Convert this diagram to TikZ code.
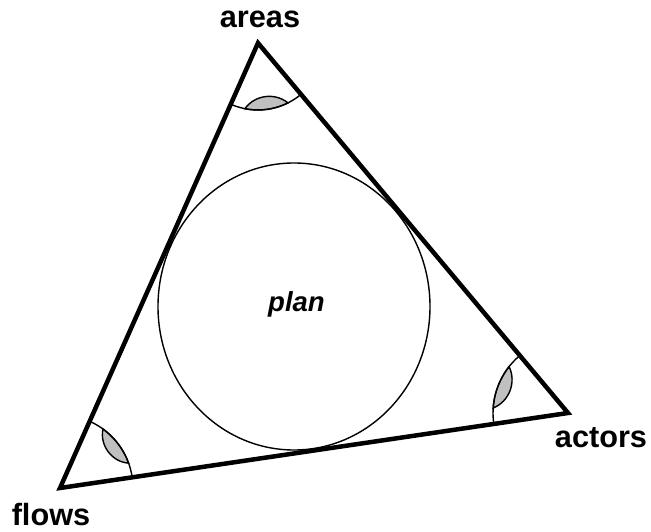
\documentclass[tikz,border=0pt]{standalone}
\usepackage{fontspec}
\setmainfont{Liberation Sans}
\usetikzlibrary{calc}
\definecolor{lensgray}{HTML}{C0C0C0}
\tikzset{
  lbl/.style={font=\fontsize{30.7}{36}\selectfont\bfseries, anchor=base, inner sep=0pt},
  side/.style={line width=4.5pt, line join=miter, line cap=round},
  thinline/.style={line width=1.4pt},
}
\newcommand{\anglemark}[6]{%
  % #1 vertex, #2 radius, #3/#4 arc angles, #5/#6 lens angles
  \pgfmathsetmacro{\lensh}{#2*sin((#6-#5)/2)}
  \pgfmathsetmacro{\lenss}{#2*cos((#6-#5)/2)-#2+13}
  \pgfmathsetmacro{\lensb}{2*atan(\lenss/\lensh)}
  \filldraw[fill=lensgray, thinline]
    ($(#1)+(#5:#2)$) arc[start angle=#5, end angle=#6, radius=#2]
    to[bend right=\lensb] ($(#1)+(#5:#2)$) -- cycle;
  \draw[thinline] ($(#1)+(#3:#2)$) arc[start angle=#3, end angle=#4, radius=#2];
}
\begin{document}
\begin{tikzpicture}[x=1pt, y=1pt]
  \useasboundingbox (0,0) rectangle (651,531);
  \coordinate (A) at (258,488);
  \coordinate (BL) at (60,43);
  \coordinate (BR) at (568,118);

  \anglemark{A}{67}{246}{310}{258.7}{296.6}
  \anglemark{BR}{75}{130}{188.4}{141.8}{176.2}
  \anglemark{BL}{73}{8.4}{66}{19.9}{53.9}

  \draw[thinline] (294,224.5) ellipse[x radius=136, y radius=143.5];
  \node[font=\fontsize{27.5}{33}\selectfont\bfseries\itshape, anchor=base, inner sep=0pt] (plan) at (296.5,219) {plan};

  \draw[side] (A) -- (BR) -- (BL) -- cycle;

  \node[lbl] (areas) at (260,503) {areas};
  \node[lbl] (actors) at (601,84) {actors};
  \node[lbl] (flows) at (51,6) {flows};
\end{tikzpicture}
\end{document}
